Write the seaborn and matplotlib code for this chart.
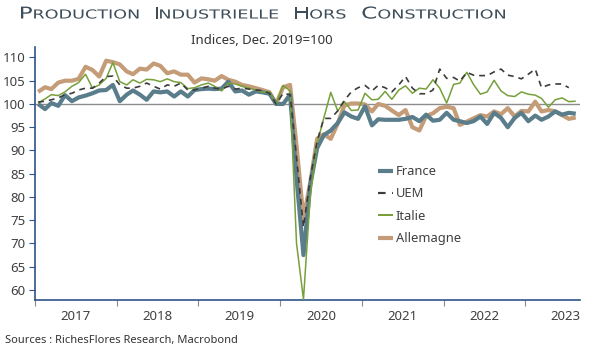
import numpy as np
import pandas as pd
import matplotlib
matplotlib.use("Agg")
import matplotlib.pyplot as plt
from matplotlib.lines import Line2D
from matplotlib.textpath import TextPath
from matplotlib.patches import PathPatch
from matplotlib.font_manager import FontProperties
from matplotlib.transforms import Affine2D, IdentityTransform
import seaborn as sns

# ---------------- data (monthly, Jan 2017 - Aug 2023) ----------------
start_month = "2017-01"
n_months = 80

france = [
    100.0, 98.9, 100.2, 99.6, 101.9, 100.6, 101.4, 101.8, 102.3, 102.9, 103.0, 104.1,
    100.6, 102.0, 102.9, 102.0, 100.9, 102.7, 102.5, 102.7, 101.6, 102.7, 101.6, 103.0,
    103.2, 103.3, 103.2, 103.3, 104.8, 102.7, 102.9, 102.0, 102.7, 102.5, 102.2, 100.0,
    100.0, 102.0, 84.0, 67.5, 82.5, 90.5, 93.3, 94.3, 95.9, 98.2, 97.3, 96.8,
    99.5, 95.4, 96.7, 96.6, 96.6, 96.6, 96.8, 97.2, 96.3, 97.7, 96.4, 96.6,
    98.1, 96.6, 96.3, 95.9, 96.3, 97.3, 95.7, 98.1, 97.0, 95.0, 97.0, 98.1,
    96.3, 97.5, 96.6, 97.3, 98.4, 97.7, 98.1, 97.9,
]
uem = [
    100.4, 100.6, 100.9, 101.3, 102.0, 102.3, 103.0, 103.4, 103.4, 104.5, 105.9, 106.0,
    104.1, 103.4, 103.4, 103.8, 104.5, 103.8, 103.2, 104.1, 103.8, 104.5, 103.0, 103.0,
    103.4, 103.8, 103.4, 103.2, 103.8, 103.2, 103.4, 103.2, 103.0, 102.9, 102.3, 100.0,
    102.3, 102.0, 88.5, 73.5, 84.0, 92.0, 96.9, 96.9, 98.5, 100.8, 102.6, 103.5,
    104.0, 102.8, 104.0, 103.5, 102.6, 104.1, 105.9, 103.4, 102.2, 102.2, 103.0, 107.5,
    105.5, 105.7, 104.9, 106.8, 106.2, 106.1, 106.1, 106.9, 107.5, 106.2, 105.9, 105.4,
    106.4, 107.5, 103.5, 104.1, 104.3, 104.3, 103.5, np.nan,
]
italie = [
    100.2, 101.1, 102.0, 101.8, 102.6, 103.8, 104.6, 106.4, 103.4, 104.1, 105.5, 108.9,
    104.8, 104.1, 105.2, 104.5, 105.3, 105.2, 104.8, 105.4, 104.8, 104.6, 103.3, 103.5,
    104.1, 104.5, 103.8, 102.8, 104.5, 104.3, 103.8, 103.4, 103.0, 102.5, 102.7, 100.0,
    104.0, 102.8, 70.0, 58.0, 80.0, 91.5, 97.0, 102.5, 98.5, 100.5, 98.6, 98.7,
    102.3, 100.9, 101.0, 102.7, 101.0, 103.0, 103.9, 102.3, 103.4, 103.2, 105.2, 103.4,
    100.2, 104.2, 104.5, 106.8, 104.2, 102.1, 102.6, 105.1, 102.8, 101.8, 101.6, 102.6,
    102.1, 101.9, 101.2, 99.3, 100.9, 101.3, 100.5, 100.6,
]
allemagne = [
    102.6, 103.6, 103.2, 104.6, 105.0, 105.0, 105.4, 108.0, 107.3, 105.9, 109.3, 109.0,
    108.5, 107.0, 106.4, 107.6, 107.4, 108.7, 108.2, 106.6, 107.0, 106.3, 106.3, 104.6,
    105.5, 105.3, 105.0, 106.0, 105.2, 104.8, 104.1, 103.8, 103.4, 103.0, 102.5, 100.0,
    103.6, 104.1, 91.0, 75.4, 83.0, 92.5, 93.5, 92.5, 95.8, 99.7, 100.1, 100.1,
    99.9, 98.4, 100.0, 99.6, 98.6, 97.6, 98.7, 95.0, 94.3, 97.4, 98.0, 99.1,
    99.4, 99.1, 95.5, 96.2, 96.9, 97.6, 97.3, 98.4, 97.8, 99.1, 97.3, 98.5,
    98.4, 100.5, 98.4, 98.7, 98.4, 97.6, 96.8, 97.1,
]

series_names = ["France", "UEM", "Italie", "Allemagne"]
series_values = [france, uem, italie, allemagne]
year_labels = ["2017", "2018", "2019", "2020", "2021", "2022", "2023"]
y_ticks = [60, 65, 70, 75, 80, 85, 90, 95, 100, 105, 110]

title_text = "PRODUCTION INDUSTRIELLE HORS CONSTRUCTION"
subtitle_text = "Indices, Dec. 2019=100"
source_text = "Sources : RichesFlores Research, Macrobond"

# ---------------- frame ----------------
dates = pd.date_range(start_month, periods=n_months, freq="MS") + pd.Timedelta(days=14)
df = pd.concat(
    [pd.DataFrame({"date": dates, "serie": n, "valeur": v})
     for n, v in zip(series_names, series_values)],
    ignore_index=True,
)

styles = {
    "France":    dict(color="#5a7d8c", lw=3.0, ls="-", z=4),
    "UEM":       dict(color="#3c3c3c", lw=1.2, ls=(0, (3.5, 3.0)), z=6),
    "Italie":    dict(color="#76a03a", lw=1.1, ls="-", z=5),
    "Allemagne": dict(color="#c49c77", lw=3.0, ls="-", z=3),
}

sns.set_theme(style="white")
plt.rcParams["font.family"] = ["Noto Sans", "DejaVu Sans"]

W, H = 589, 348
fig = plt.figure(figsize=(W / 100, H / 100), dpi=100)
ax = fig.add_axes([35 / W, 1 - 300 / H, 545 / W, 253 / H])

ax.axhline(100, color="#8c8c8c", lw=1.0, zorder=1)

for name in ["Allemagne", "France", "Italie", "UEM"]:
    st = styles[name]
    sub = df[df["serie"] == name]
    sns.lineplot(data=sub, x="date", y="valeur", ax=ax, color=st["color"],
                 linewidth=st["lw"], linestyle=st["ls"], zorder=st["z"],
                 legend=False, solid_capstyle="butt", solid_joinstyle="round")

ax.set_ylim(57.85, 112.25)
ax.set_xlim(pd.Timestamp("2017-01-01"), pd.Timestamp("2023-09-03"))
ax.set_xlabel("")
ax.set_ylabel("")

spine_col = "#2f5487"
for s in ["top", "right"]:
    ax.spines[s].set_visible(False)
for s in ["left", "bottom"]:
    ax.spines[s].set_color(spine_col)
    ax.spines[s].set_linewidth(1.2)

ax.set_yticks(y_ticks)
ax.set_yticklabels([str(v) for v in y_ticks])
ax.tick_params(axis="y", which="major", left=True, length=4, width=0.8,
               color=spine_col, labelsize=9.5, labelcolor="#404040", pad=3)

year_starts = [pd.Timestamp(f"{y}-01-01") for y in year_labels]
mid_years = [pd.Timestamp(f"{y}-07-02") for y in year_labels]
ax.set_xticks(year_starts)
ax.set_xticklabels([""] * len(year_starts))
ax.set_xticks(mid_years, minor=True)
ax.set_xticklabels(year_labels, minor=True)
ax.tick_params(axis="x", which="major", bottom=True, length=4, width=0.8, color="#8a8a8a")
ax.tick_params(axis="x", which="minor", bottom=False, length=0, labelsize=9.5,
               labelcolor="#404040", pad=7)
ax.grid(False)

# legend
handles = []
for name in series_names:
    st = styles[name]
    handles.append(Line2D([0], [0], color=st["color"], lw=st["lw"] if st["lw"] > 2 else st["lw"] * 1.3,
                          linestyle=st["ls"], solid_capstyle="butt"))
leg = ax.legend(handles, series_names, loc="upper left", bbox_to_anchor=(0.629, 0.533),
                frameon=False, fontsize=9.3, handlelength=1.2, handletextpad=0.2,
                labelspacing=0.72, borderpad=0, borderaxespad=0)
for t in leg.get_texts():
    t.set_color("#404040")

# subtitle & source
fig.text(262 / W, 1 - 44 / H, subtitle_text, ha="center", va="baseline",
         fontsize=9.5, color="#333333")
fig.text(5 / W, 1 - 343 / H, source_text, ha="left", va="baseline",
         fontsize=8, color="#333333")

# small-caps title, horizontally stretched glyph paths
fp = FontProperties(family="DejaVu Sans")
big_px, small_px = 16.3, 12.4
words = title_text.split(" ")
word_paths = []
for word in words:
    p_first = TextPath((0, 0), word[0], size=big_px, prop=fp)
    p_rest = TextPath((0, 0), word[1:], size=small_px, prop=fp)
    e1 = p_first.get_extents()
    e2 = p_rest.get_extents()
    gap_in = 1.6
    word_paths.append((p_first, e1, p_rest, e2, gap_in))
natural = sum(e1.width + gap_in + e2.width for _, e1, _, e2, gap_in in word_paths)
word_gap = 17.0
x_left, x_right = 21.0, 505.0
sx = (x_right - x_left - word_gap * (len(words) - 1)) / natural
baseline = H - 18.5
x = x_left
title_col = "#3d4d59"
for p_first, e1, p_rest, e2, gap_in in word_paths:
    tr1 = Affine2D().translate(-e1.x0, 0).scale(sx, 1.0).translate(x, baseline)
    fig.add_artist(PathPatch(tr1.transform_path(p_first), transform=IdentityTransform(),
                             facecolor=title_col, edgecolor="none", lw=0))
    x += (e1.width + gap_in) * sx
    tr2 = Affine2D().translate(-e2.x0, 0).scale(sx, 1.0).translate(x, baseline)
    fig.add_artist(PathPatch(tr2.transform_path(p_rest), transform=IdentityTransform(),
                             facecolor=title_col, edgecolor="none", lw=0))
    x += e2.width * sx + word_gap

fig.savefig("out.png", dpi=100)
